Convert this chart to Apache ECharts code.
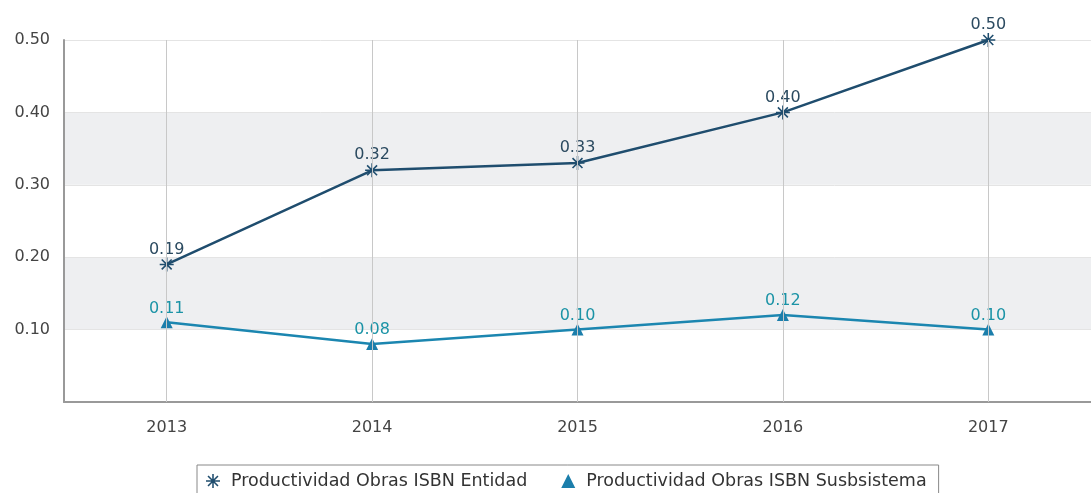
<!DOCTYPE html>
<html><head><meta charset="utf-8">
<script src="https://cdn.jsdelivr.net/npm/echarts@6/dist/echarts.min.js"></script>
<style>html,body{margin:0;padding:0;background:#fff}#c{width:1091px;height:493px}</style>
</head><body><div id="c"></div>
<script>
const categories = ['2013','2014','2015','2016','2017'];
const entidad = [0.19, 0.32, 0.33, 0.40, 0.50];
const subsistema = [0.11, 0.08, 0.10, 0.12, 0.10];
const seriesNames = ['Productividad Obras ISBN Entidad', 'Productividad Obras ISBN Susbsistema'];

const asterisk = 'path://M-0.11,-1L0.11,-1L0.11,1L-0.11,1ZM-1,-0.11L1,-0.11L1,0.11L-1,0.11ZM-0.79,-0.63L-0.63,-0.79L0.79,0.63L0.63,0.79ZM0.63,-0.79L0.79,-0.63L-0.63,0.79L-0.79,0.63Z';
const font = 'DejaVu Sans';
const chart = echarts.init(document.getElementById('c'));
chart.setOption({
  animation: false,
  textStyle: {fontFamily: font},
  grid: {left: 64, top: 40, width: 1037, height: 362},
  xAxis: {
    type: 'category', data: categories, boundaryGap: true,
    axisLine: {lineStyle: {color: '#999', width: 2}},
    axisTick: {show: false},
    axisLabel: {color: '#444', fontSize: 16, margin: 18, fontFamily: font},
    splitLine: {show: false}
  },
  yAxis: {
    type: 'value', min: 0, max: 0.5, interval: 0.1,
    axisLine: {show: true, lineStyle: {color: '#999', width: 2}},
    axisTick: {show: false},
    axisLabel: {color: '#444', fontSize: 16, margin: 14, fontFamily: font,
      formatter: v => v === 0 ? '' : v.toFixed(2)},
    splitLine: {show: true, lineStyle: {color: '#e4e4e4'}},
    splitArea: {show: true, areaStyle: {color: ['#ffffff', '#eeeff1']}}
  },
  legend: {
    top: 465, left: 197,
    data: [{name: seriesNames[0], icon: asterisk}, {name: seriesNames[1], icon: 'triangle'}],
    itemWidth: 14, itemHeight: 14, itemGap: 34,
    borderColor: '#888', borderWidth: 1, padding: [7, 12, 16, 9],
    textStyle: {fontSize: 17.5, color: '#333', fontFamily: font, padding: [0, 0, 0, 6]}
  },
  series: [
    {
      name: seriesNames[0], type: 'line', data: entidad,
      symbol: asterisk, symbolSize: 14,
      lineStyle: {color: '#1f4d6e', width: 2.5},
      itemStyle: {color: '#1f4d6e'},
      label: {show: true, position: 'top', distance: 0, fontSize: 16, color: '#2b4a60',
        fontFamily: font, formatter: p => p.value.toFixed(2)},
      markLine: {
        silent: true, symbol: 'none', label: {show: false},
        lineStyle: {color: '#c8c8c8', type: 'solid', width: 1},
        data: categories.map(c => ({xAxis: c}))
      },
      z: 3
    },
    {
      name: seriesNames[1], type: 'line', data: subsistema,
      symbol: 'triangle', symbolSize: 12,
      lineStyle: {color: '#1b86b0', width: 2.5},
      itemStyle: {color: '#1b7eab'},
      label: {show: true, position: 'top', distance: 0, fontSize: 16, color: '#1b93a6',
        fontFamily: font, formatter: p => p.value.toFixed(2)},
      z: 3
    }
  ]
});
</script></body></html>
